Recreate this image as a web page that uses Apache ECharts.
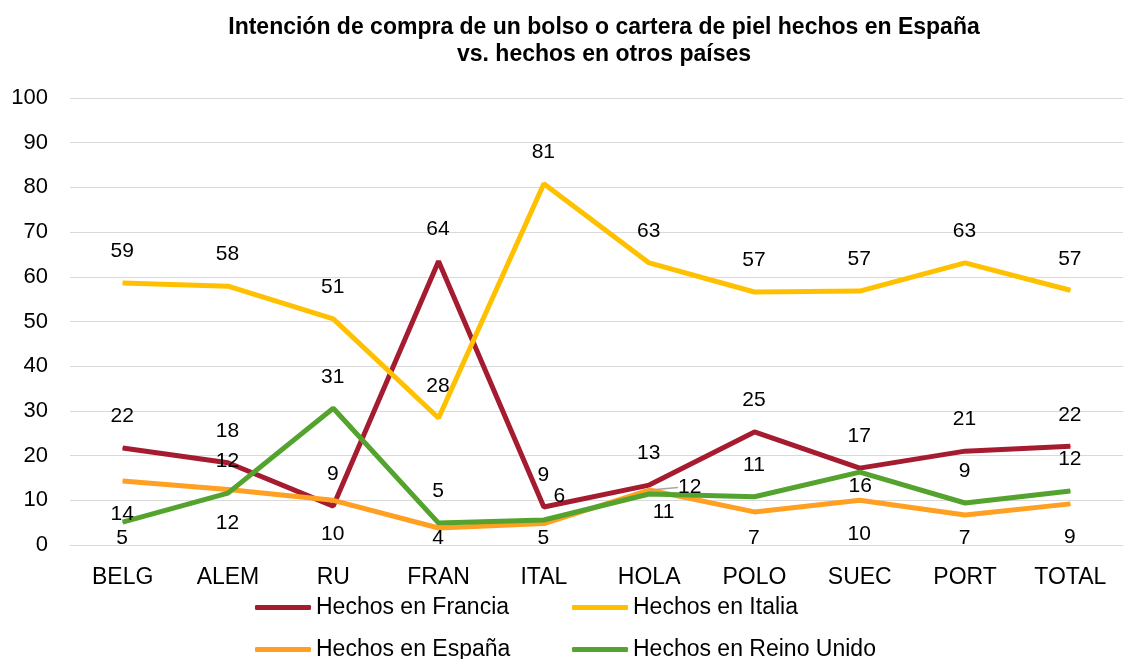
<!DOCTYPE html>
<html>
<head>
<meta charset="utf-8">
<script src="https://cdn.jsdelivr.net/npm/echarts@6/dist/echarts.min.js"></script>
<style>
  html, body { margin: 0; padding: 0; background: #fff; }
  #chart { width: 1123px; height: 659px; }
</style>
</head>
<body>
<div id="chart"></div>
<script>
// datos
var paises = ["BELG", "ALEM", "RU", "FRAN", "ITAL", "HOLA", "POLO", "SUEC", "PORT", "TOTAL"];
var francia = [21.7, 18.4, 8.7, 63.5, 8.5, 13.4, 25.3, 17.2, 21.0, 22.1];
var italia = [58.6, 57.9, 50.6, 28.4, 80.8, 63.1, 56.6, 56.8, 63.1, 57.0];
var espana = [14.3, 12.4, 10.0, 3.8, 4.8, 12.3, 7.4, 10.0, 6.7, 9.2];
var reinoUnido = [5.1, 11.6, 30.6, 4.9, 5.6, 11.4, 10.8, 16.3, 9.4, 12.1];

var FONT = "Liberation Sans, Arial, sans-serif";
var chart = echarts.init(document.getElementById("chart"));

// etiqueta por defecto encima o debajo; algunos puntos movidos como en el original
function puntos(valores, defecto, especiales) {
  return valores.map(function (v, i) {
    var pos = (especiales && especiales[i]) || defecto;
    return { value: v, label: { position: pos } };
  });
}

// evita que las etiquetas bajen del eje
function limitarAbajo(params) {
  var r = params.labelRect;
  var limite = 549;
  if (r.y + r.height > limite) {
    return { dy: limite - (r.y + r.height) };
  }
  return {};
}

function serie(nombre, color, data) {
  return {
    name: nombre,
    type: "line",
    data: data,
    symbol: "circle",
    symbolSize: 1,
    itemStyle: { color: color },
    lineStyle: { color: color, width: 5 },
    label: {
      show: true,
      align: "center",
      verticalAlign: "middle",
      color: "#000",
      fontSize: 21,
      lineHeight: 20,
      fontFamily: FONT,
      formatter: function (p) { return Math.round(p.value); }
    },
    labelLayout: limitarAbajo,
    emphasis: { disabled: true }
  };
}

function leyenda(nombre, x, y) {
  return {
    data: [nombre],
    left: x,
    top: y,
    icon: "roundRect",
    itemWidth: 56,
    itemHeight: 5,
    textStyle: { fontSize: 23, color: "#000", fontFamily: FONT }
  };
}

var arriba = [0, -31];
var abajo = [0, 34];

var espanaData = puntos(espana, abajo, { 5: [41, -2] });
espanaData[5].labelLine = { show: true, lineStyle: { color: "#A6A6A6", width: 1.5 } };

var option = {
  animation: false,
  title: {
    text: "Intención de compra de un bolso o cartera de piel hechos en España\nvs. hechos en otros países",
    left: 599,
    top: 9,
    textAlign: "center",
    textStyle: { fontSize: 23, fontWeight: "bold", lineHeight: 27, color: "#000", fontFamily: FONT }
  },
  legend: [
    leyenda("Hechos en Francia", 250, 591),
    leyenda("Hechos en Italia", 567, 591),
    leyenda("Hechos en España", 250, 633),
    leyenda("Hechos en Reino Unido", 567, 633)
  ],
  grid: { left: 70, top: 98, width: 1060, height: 447 },
  xAxis: {
    type: "category",
    data: paises,
    boundaryGap: true,
    axisLine: { lineStyle: { color: "#D9D9D9", width: 1 } },
    axisTick: { show: false },
    axisLabel: { color: "#000", fontSize: 23, fontFamily: FONT, margin: 21 }
  },
  yAxis: {
    type: "value",
    min: 0,
    max: 100,
    interval: 10,
    axisLine: { show: false },
    axisTick: { show: false },
    splitLine: { lineStyle: { color: "#D9D9D9", width: 1 } },
    axisLabel: { color: "#000", fontSize: 22, fontFamily: FONT, margin: 22 }
  },
  series: [
    serie("Hechos en Francia", "#A51C30", puntos(francia, arriba)),
    serie("Hechos en Italia", "#FFC000", puntos(italia, arriba)),
    serie("Hechos en España", "#FFA022", espanaData),
    serie("Hechos en Reino Unido", "#55A32F", puntos(reinoUnido, arriba, {
      0: abajo, 4: [16, -23], 5: [15, 19], 7: [1, 15]
    }))
  ]
};

chart.setOption(option);
</script>
</body>
</html>
